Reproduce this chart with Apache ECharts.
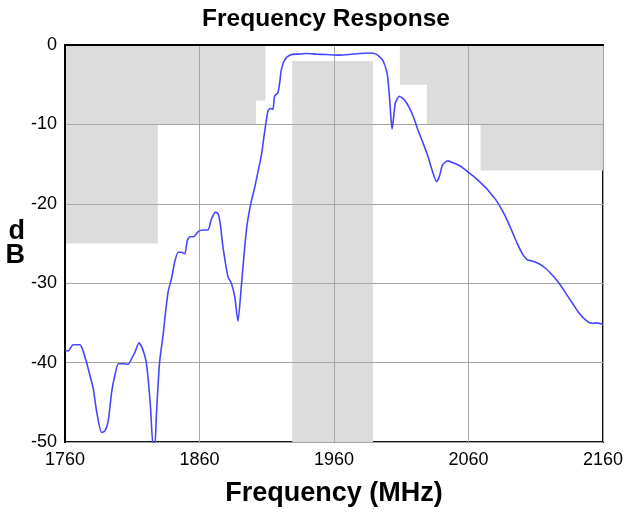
<!DOCTYPE html>
<html>
<head>
<meta charset="utf-8">
<script src="https://cdn.jsdelivr.net/npm/echarts@6/dist/echarts.min.js"></script>
<style>html,body{margin:0;padding:0;background:#fff}#c{width:626px;height:512px}</style>
</head>
<body>
<div id="c"></div>
<script>
// Measured response curve
var freq = [1760,1762.5,1766,1771,1773,1776,1778.5,1781,1783.5,1787.2,1789.7,1792.1,1794.7,1797.1,1799.6,1803.3,1807,1809.5,1812,1815,1817.7,1820.1,1821.8,1823.6,1825.5,1826.8,1828,1830.3,1833,1835,1836.7,1839.2,1841.6,1844.1,1846.6,1849,1851,1852.8,1855.7,1859,1862.6,1866.3,1868.8,1872,1873.8,1875.5,1877.5,1881.2,1883.7,1886.2,1888.6,1891.1,1893.6,1895.5,1898.5,1901,1903.5,1906,1908.4,1910.9,1912.6,1914.6,1915.8,1918.3,1919.6,1920.8,1923.3,1927,1932,1934.4,1939.4,1946.8,1954.2,1964,1971.5,1979,1986.3,1991.3,1996.2,1999.5,2001.2,2002.4,2003.2,2004.2,2005.6,2008.6,2012.3,2016,2019.7,2022.2,2025.9,2029.6,2033.3,2036.3,2038.3,2040.7,2044.5,2049.4,2054.4,2059.3,2065.5,2073,2076,2080.4,2085.3,2089,2092.7,2096.4,2100.1,2103.8,2107.5,2112.5,2117.5,2122.4,2127.4,2132.3,2137.2,2142.2,2147.2,2152,2155.8,2160];
var dB = [-38.5,-38.5,-37.75,-37.75,-38.3,-39.95,-41.6,-43.25,-46.15,-48.8,-48.6,-47.4,-43.7,-41.6,-40.15,-40.15,-40.2,-39.5,-38.7,-37.5,-38.3,-39.7,-42,-45.7,-50.5,-50.5,-46.4,-40,-36.4,-33.3,-31.05,-29.4,-27.3,-26.1,-26.1,-26.3,-24.6,-24.15,-24.15,-23.5,-23.3,-23.3,-21.95,-21.05,-21.25,-22.6,-25.5,-29.2,-30,-31.7,-34.8,-30.4,-25.5,-22.5,-19.7,-18,-15.95,-13.9,-11,-8.3,-8.0,-8.1,-6.45,-6.0,-4.8,-3.15,-1.9,-1.3,-1.15,-1.15,-1.07,-1.15,-1.2,-1.28,-1.2,-1.07,-1.0,-1.15,-1.9,-3.55,-6.45,-9.35,-10.6,-9.35,-7.3,-6.45,-6.9,-7.9,-9.35,-10.6,-12.2,-13.9,-15.95,-17.2,-16.6,-15.1,-14.6,-14.9,-15.3,-15.95,-16.8,-18.0,-18.6,-19.5,-20.9,-22.15,-23.6,-25.05,-26.3,-27.05,-27.2,-27.55,-28.15,-29,-30,-31.25,-32.5,-33.75,-34.65,-35.05,-35,-35.2];

// Spec mask rectangles (overlapping, same colour)
var maskX0 = [1760, 1760, 1760, 1929, 2009, 2029, 2069];
var maskX1 = [1829, 1902, 1909, 1989, 2160, 2160, 2160];
var maskTop = [0, 0, 0, -2, 0, 0, 0];
var maskBottom = [-25, -10, -7, -50, -5, -10, -15.8];

var xTicks = [1760, 1860, 1960, 2060, 2160];
var yTicks = [0, -10, -20, -30, -40, -50];

var curve = freq.map(function (f, i) { return [f, dB[i]]; });
var areas = maskX0.map(function (x0, i) {
  return [{ coord: [x0, maskTop[i]] }, { coord: [maskX1[i], maskBottom[i]] }];
});

var chart = echarts.init(document.getElementById('c'));
var FONT = '"Liberation Sans", Arial, sans-serif';
chart.setOption({
  animation: false,
  backgroundColor: '#ffffff',
  title: {
    text: 'Frequency Response',
    left: 321, top: 2, textAlign: 'center',
    textStyle: { fontFamily: FONT, fontSize: 24.5, fontWeight: 'bold', color: '#000' }
  },
  grid: { left: 65, top: 45, width: 539, height: 403, show: true, borderColor: '#111', borderWidth: 2, backgroundColor: 'transparent' },
  xAxis: {
    type: 'value', min: xTicks[0], max: xTicks[xTicks.length - 1], interval: 100, z: 2,
    name: 'Frequency (MHz)', nameLocation: 'middle', nameGap: 38,
    nameTextStyle: { fontFamily: FONT, fontSize: 27, fontWeight: 'bold', color: '#000' },
    axisLine: { lineStyle: { color: '#000', width: 2 } },
    axisTick: { show: false },
    axisLabel: { fontFamily: FONT, fontSize: 18, color: '#000', margin: 9, formatter: function (v) { return String(v); } },
    splitLine: { lineStyle: { color: '#a6a6a6', width: 1 } }
  },
  yAxis: {
    type: 'value', min: yTicks[yTicks.length - 1], max: yTicks[0], interval: 10, z: 2,
    name: 'd\nB', nameLocation: 'middle', nameRotate: 0, nameGap: 38,
    nameTextStyle: { fontFamily: FONT, fontSize: 27, fontWeight: 'bold', color: '#000', lineHeight: 24, padding: [14, 0, 0, 0] },
    axisLine: { lineStyle: { color: '#000', width: 2 } },
    axisTick: { show: false },
    axisLabel: { fontFamily: FONT, fontSize: 18, color: '#000', margin: 8, formatter: function (v) { return String(v); } },
    splitLine: { lineStyle: { color: '#a6a6a6', width: 1 } }
  },
  series: [
    {
      type: 'line', data: [], z: 1, silent: true,
      markArea: { silent: true, itemStyle: { color: '#dcdcdc', borderWidth: 0 }, data: areas }
    },
    {
      type: 'line', data: curve, z: 3, showSymbol: false, smooth: 0.2, clip: true,
      lineStyle: { color: '#4646ff', width: 1.6 }
    }
  ]
});
</script>
</body>
</html>
